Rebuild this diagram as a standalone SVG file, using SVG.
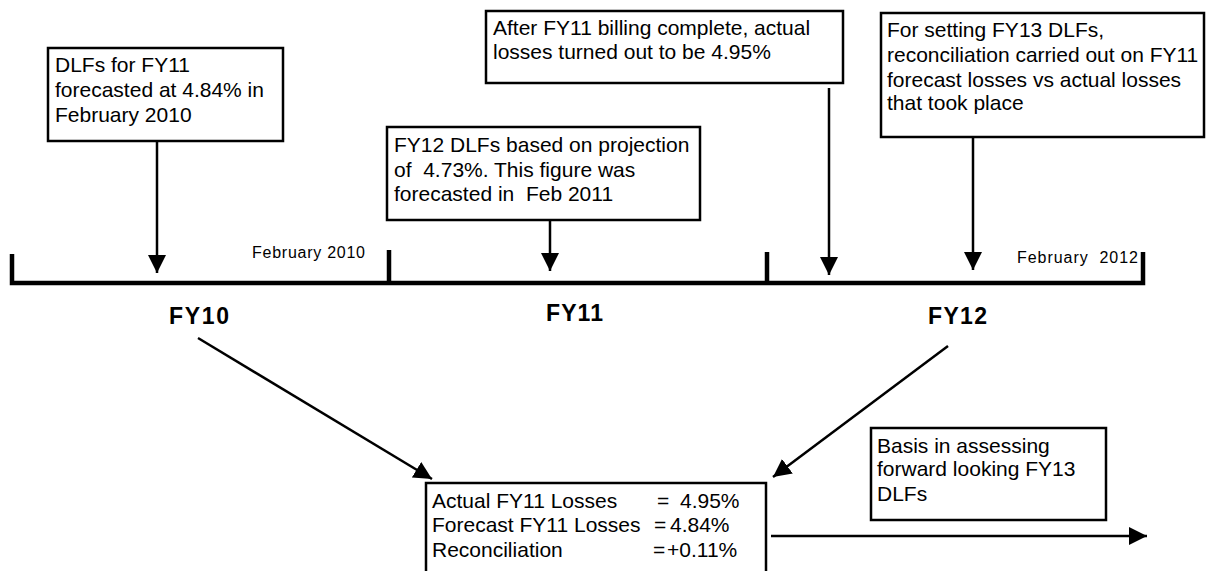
<svg xmlns="http://www.w3.org/2000/svg" width="1214" height="571" viewBox="0 0 1214 571">
<style>
  .box { fill: #fff; stroke: #000; stroke-width: 2.5; }
  .t { font-family: "Liberation Sans", Arial, sans-serif; font-size: 21px; fill: #000; }
  .s { font-family: "Liberation Sans", Arial, sans-serif; font-size: 16px; fill: #000; }
  .fy { font-family: "Liberation Sans", Arial, sans-serif; font-size: 23px; font-weight: bold; fill: #000; }
  .ln { stroke: #000; stroke-width: 2.5; fill: none; }
  .tl { stroke: #000; stroke-width: 4.5; fill: none; }
</style>
<defs>
  <marker id="ah" viewBox="0 0 10 10" refX="10" refY="5" markerWidth="18" markerHeight="18" markerUnits="userSpaceOnUse" orient="auto">
    <path d="M0,0 L10,5 L0,10 Z" fill="#000"/>
  </marker>
</defs>
<rect width="1214" height="571" fill="#fff"/>

<g id="timeline">
  <path class="tl" d="M12,254 V283 H1143 V252"/>
  <path class="tl" d="M389,250 V283"/>
  <path class="tl" d="M767,252 V283"/>
  <text class="s" x="252" y="258" textLength="113" lengthAdjust="spacing">February 2010</text>
  <text class="s" x="1017" y="263" textLength="121" lengthAdjust="spacing">February&#160; 2012</text>
  <text class="fy" x="169" y="324" textLength="60" lengthAdjust="spacing">FY10</text>
  <text class="fy" x="546" y="321" textLength="57" lengthAdjust="spacing">FY11</text>
  <text class="fy" x="928" y="324" textLength="59" lengthAdjust="spacing">FY12</text>
</g>

<g id="node-fy11-forecast">
  <rect class="box" x="48" y="48" width="235" height="93"/>
  <text class="t" x="55" y="72">DLFs for FY11</text>
  <text class="t" x="55" y="97">forecasted at 4.84% in</text>
  <text class="t" x="55" y="122">February 2010</text>
</g>

<g id="node-fy12-dlfs">
  <rect class="box" x="387" y="127" width="313" height="93"/>
  <text class="t" x="394" y="152">FY12 DLFs based on projection</text>
  <text class="t" x="394" y="177">of&#160; 4.73%. This figure was</text>
  <text class="t" x="394" y="201">forecasted in&#160; Feb 2011</text>
</g>

<g id="node-actual-losses">
  <rect class="box" x="486" y="11" width="357" height="72"/>
  <text class="t" x="493" y="35">After FY11 billing complete, actual</text>
  <text class="t" x="493" y="59">losses turned out to be 4.95%</text>
</g>

<g id="node-reconciliation-note">
  <rect class="box" x="881" y="13" width="323" height="124"/>
  <text class="t" x="887" y="37">For setting FY13 DLFs,</text>
  <text class="t" x="887" y="62">reconciliation carried out on FY11</text>
  <text class="t" x="887" y="87">forecast losses vs actual losses</text>
  <text class="t" x="887" y="110">that took place</text>
</g>

<g id="node-result">
  <rect class="box" x="426" y="483" width="340" height="110"/>
  <text class="t" x="432" y="508">Actual FY11 Losses</text>
  <text class="t" x="657" y="508">=</text>
  <text class="t" x="680" y="508">4.95%</text>
  <text class="t" x="432" y="532">Forecast FY11 Losses</text>
  <text class="t" x="654" y="532">=</text>
  <text class="t" x="670" y="532">4.84%</text>
  <text class="t" x="432" y="557">Reconciliation</text>
  <text class="t" x="653" y="557">=</text>
  <text class="t" x="667" y="557">+0.11%</text>
</g>

<g id="node-basis">
  <rect class="box" x="871" y="428" width="235" height="92"/>
  <text class="t" x="877" y="453">Basis in assessing</text>
  <text class="t" x="877" y="476">forward looking FY13</text>
  <text class="t" x="877" y="501">DLFs</text>
</g>

<g id="connectors">
  <line class="ln" x1="157" y1="141" x2="157" y2="273" marker-end="url(#ah)"/>
  <line class="ln" x1="550" y1="220" x2="550" y2="271" marker-end="url(#ah)"/>
  <line class="ln" x1="829" y1="88" x2="829" y2="275" marker-end="url(#ah)"/>
  <line class="ln" x1="973" y1="137" x2="973" y2="270" marker-end="url(#ah)"/>
  <line class="ln" x1="198" y1="338" x2="432" y2="479" marker-end="url(#ah)"/>
  <line class="ln" x1="948" y1="346" x2="773" y2="477" marker-end="url(#ah)"/>
  <line class="ln" x1="771" y1="536" x2="1147" y2="536" marker-end="url(#ah)"/>
</g>
</svg>
